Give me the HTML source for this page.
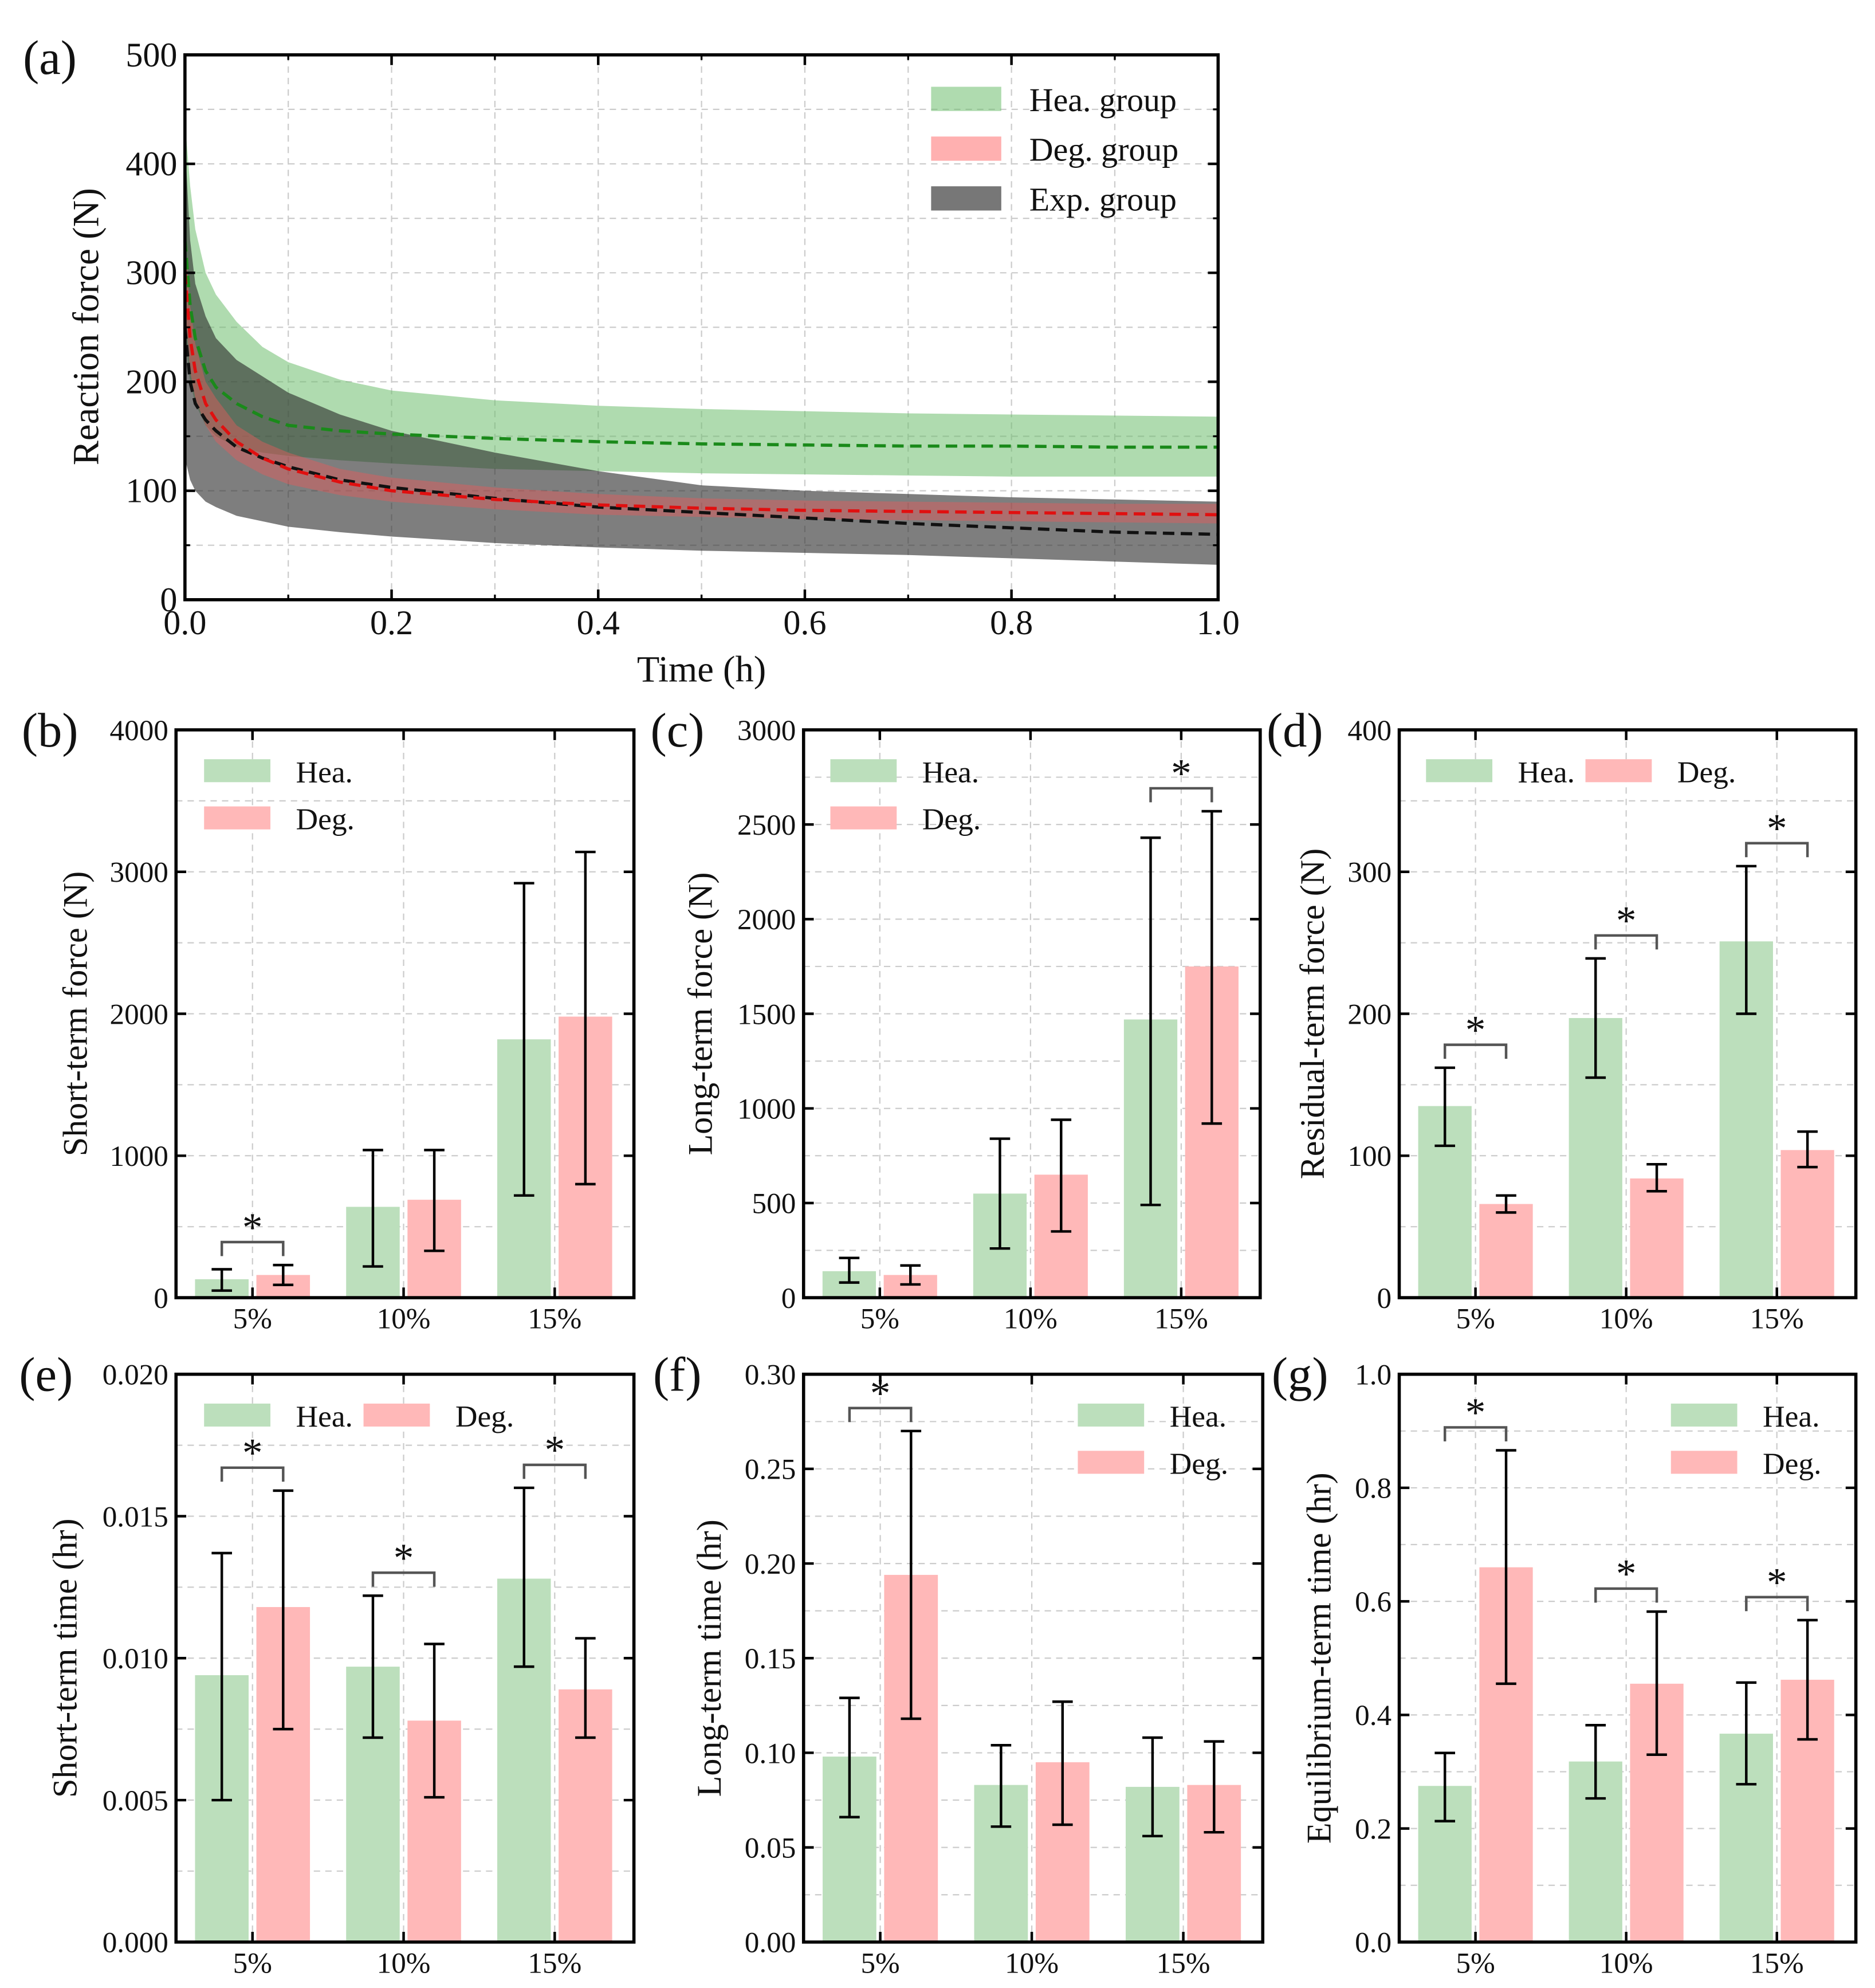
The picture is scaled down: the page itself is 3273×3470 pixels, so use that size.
<!DOCTYPE html>
<html><head><meta charset="utf-8"><style>
html,body{margin:0;padding:0;background:#fff}
svg{display:block}
text{font-family:"Liberation Serif",serif;fill:#111}
</style></head><body>
<svg id="fig" width="3273" height="3470" viewBox="0 0 1470 1558" preserveAspectRatio="none" xmlns="http://www.w3.org/2000/svg"></svg>
<script>
// ---- Panel (a) data ----
const timesA = [0,0.005,0.01,0.02,0.03,0.05,0.075,0.1,0.15,0.2,0.3,0.4,0.5,0.6,0.7,0.8,0.9,1.0];
const heaMean = [330,270,240,210,195,180,168,160,155,152,148,145,143,142,141,141,140,140];
const heaUp = [440,380,340,300,280,255,232,218,202,192,183,178,175,173,171,170,169,168];
const heaLo = [240,200,180,160,150,140,135,132,128,125,120,118,116,115,114,113,113,113];
const degMean = [300,240,210,180,165,145,130,120,108,100,92,87,84,82,81,80,79,78];
const degUp = [330,270,235,200,185,160,145,135,120,112,103,97,93,91,90,89,88,88];
const degLo = [270,210,185,160,145,128,115,106,96,90,83,78,76,74,73,72,71,70];
const expMean = [250,200,180,165,155,140,130,122,110,103,93,85,80,75,70,66,62,60];
const expUp = [420,330,290,260,240,220,205,190,170,155,135,118,105,100,97,94,92,90];
const expLo = [130,110,100,90,85,77,72,67,62,58,52,48,45,43,41,38,35,32];
const xTicksA = [0,0.2,0.4,0.6,0.8,1.0];
const xTickLabelsA = ["0.0","0.2","0.4","0.6","0.8","1.0"];
const yTicksA = [0,100,200,300,400,500];
// ---- Bar panels data ----
const categories = ["5%","10%","15%"];
const bHea = [130,640,1820], bHeaLo=[50,220,720], bHeaHi=[200,1040,2920];
const bDeg = [160,690,1980], bDegLo=[90,330,800], bDegHi=[230,1040,3140];
const bSig = [true,false,false];
const cHea = [140,550,1470], cHeaLo=[80,260,490], cHeaHi=[210,840,2430];
const cDeg = [120,650,1750], cDegLo=[70,350,920], cDegHi=[170,940,2570];
const cSig = [false,false,true];
const dHea = [135,197,251], dHeaLo=[107,155,200], dHeaHi=[162,239,304];
const dDeg = [66,84,104], dDegLo=[60,75,92], dDegHi=[72,94,117];
const dSig = [true,true,true];
const eHea = [0.0094,0.0097,0.0128], eHeaLo=[0.0050,0.0072,0.0097], eHeaHi=[0.0137,0.0122,0.0160];
const eDeg = [0.0118,0.0078,0.0089], eDegLo=[0.0075,0.0051,0.0072], eDegHi=[0.0159,0.0105,0.0107];
const eSig = [true,true,true];
const fHea = [0.098,0.083,0.082], fHeaLo=[0.066,0.061,0.056], fHeaHi=[0.129,0.104,0.108];
const fDeg = [0.194,0.095,0.083], fDegLo=[0.118,0.062,0.058], fDegHi=[0.270,0.127,0.106];
const fSig = [true,false,false];
const gHea = [0.275,0.318,0.367], gHeaLo=[0.213,0.253,0.278], gHeaHi=[0.333,0.382,0.457];
const gDeg = [0.66,0.455,0.462], gDegLo=[0.455,0.33,0.357], gDegHi=[0.866,0.582,0.567];
const gSig = [true,true,true];
const bTicks=[0,1000,2000,3000,4000], cTicks=[0,500,1000,1500,2000,2500,3000], dTicks=[0,100,200,300,400];
const eTicks=[0,0.005,0.010,0.015,0.020], eTickLabels=["0.000","0.005","0.010","0.015","0.020"];
const fTicks=[0,0.05,0.10,0.15,0.20,0.25,0.30], fTickLabels=["0.00","0.05","0.10","0.15","0.20","0.25","0.30"];
const gTicks=[0,0.2,0.4,0.6,0.8,1.0], gTickLabels=["0.0","0.2","0.4","0.6","0.8","1.0"];

const NS="http://www.w3.org/2000/svg";
const svg=document.getElementById('fig');
function mk(tag,attrs,parent){const e=document.createElementNS(NS,tag);for(const k in attrs)e.setAttribute(k,attrs[k]);(parent||svg).appendChild(e);return e;}
function txt(s,x,y,size,anchor,parent,rot){const t=mk('text',{x:x,y:y,'font-size':size,'text-anchor':anchor||'middle'},parent);if(rot)t.setAttribute('transform','rotate(-90 '+x+' '+y+')');t.textContent=s;return t;}

const GREEN='#bcdfbc', PINK='#ffb8b8';

// ---------- Panel (a) ----------
(function(){
 const g=mk('g',{});
 
 
 const X0=145,X1=955,Y0=470,Y1=43;
 const sx=v=>X0+(X1-X0)*v, sy=v=>Y0-(Y0-Y1)*v/500;
 for(let v=0.1;v<1;v+=0.1){mk('line',{x1:sx(v),x2:sx(v),y1:Y1,y2:Y0,stroke:'#ccc','stroke-dasharray':'5,4','stroke-width':1},g);}
 for(let v=50;v<500;v+=50){mk('line',{x1:X0,x2:X1,y1:sy(v),y2:sy(v),stroke:'#ccc','stroke-dasharray':'5,4','stroke-width':1},g);}
 function band(up,lo,fill,name){let d='M';for(let i=0;i<timesA.length;i++)d+=sx(timesA[i])+','+sy(up[i])+' L';for(let i=timesA.length-1;i>=0;i--)d+=sx(timesA[i])+','+sy(lo[i])+(i?' L':'');d+='Z';const p=mk('path',{d:d,fill:fill},g);}
 function line(m,col,name){let d='';for(let i=0;i<timesA.length;i++)d+=(i?'L':'M')+sx(timesA[i])+','+sy(m[i]);const p=mk('path',{d:d,fill:'none',stroke:col,'stroke-width':2.5,'stroke-dasharray':'9,5'},g);}
 band(heaUp,heaLo,'rgba(110,190,110,0.55)','hea-band');
 band(expUp,expLo,'rgba(40,40,40,0.6)','exp-band');
 band(degUp,degLo,'rgba(230,90,90,0.45)','deg-band');
 line(heaMean,'#1a8a1a','hea-mean-line');
 line(expMean,'#111','exp-mean-line');
 line(degMean,'#e01010','deg-mean-line');
 mk('rect',{x:X0,y:Y1,width:X1-X0,height:Y0-Y1,fill:'none',stroke:'#000','stroke-width':2.5},g);
 xTicksA.forEach((v,i)=>{mk('line',{x1:sx(v),x2:sx(v),y1:Y0,y2:Y0-8,stroke:'#000','stroke-width':2},g);mk('line',{x1:sx(v),x2:sx(v),y1:Y1,y2:Y1+8,stroke:'#000','stroke-width':2},g);txt(xTickLabelsA[i],sx(v),Y0+27,27,'middle',g);});
 for(let v=0.1;v<1;v+=0.2){mk('line',{x1:sx(v),x2:sx(v),y1:Y0,y2:Y0-4,stroke:'#000','stroke-width':1.5},g);mk('line',{x1:sx(v),x2:sx(v),y1:Y1,y2:Y1+4,stroke:'#000','stroke-width':1.5},g);}
 yTicksA.forEach(v=>{mk('line',{x1:X0,x2:X0+8,y1:sy(v),y2:sy(v),stroke:'#000','stroke-width':2},g);mk('line',{x1:X1,x2:X1-8,y1:sy(v),y2:sy(v),stroke:'#000','stroke-width':2},g);txt(String(v),X0-6,sy(v)+9,27,'end',g);});
 for(let v=50;v<500;v+=100){mk('line',{x1:X0,x2:X0+4,y1:sy(v),y2:sy(v),stroke:'#000','stroke-width':1.5},g);mk('line',{x1:X1,x2:X1-4,y1:sy(v),y2:sy(v),stroke:'#000','stroke-width':1.5},g);}
 const xt=txt('Time (h)',550,534,29,'middle',g);
 const yt=txt('Reaction force (N)',77,256,29,'middle',g,true);
 const lg=[['Hea. group','rgba(110,190,110,0.55)',68],['Deg. group','rgba(255,150,150,0.75)',107],['Exp. group','#777',146]];
 lg.forEach(l=>{const r=mk('rect',{x:730,y:l[2],width:55,height:19,fill:l[1]},g);txt(l[0],807,l[2]+19,26,'start',g);});
 txt('(a)',18,58,38,'start');
})();

// ---------- Bar panels ----------
function barPanel(o){
 const g=mk('g',{});
 
 
 const X0=o.x0,X1=o.x1,Y0=o.y0,Y1=o.y1;
 const sy=v=>Y0-(Y0-Y1)*v/o.max;
 const w=X1-X0, cx=i=>X0+w*(0.167+0.33*i);
 o.ticks.forEach((v,i)=>{ if(i>0){const half=(o.ticks[i]+o.ticks[i-1])/2;mk('line',{x1:X0,x2:X1,y1:sy(half),y2:sy(half),stroke:'#ccc','stroke-dasharray':'5,4'},g);} if(i>0&&i<o.ticks.length-1)mk('line',{x1:X0,x2:X1,y1:sy(v),y2:sy(v),stroke:'#ccc','stroke-dasharray':'5,4'},g);});
 categories.forEach((c,i)=>mk('line',{x1:cx(i),x2:cx(i),y1:Y1,y2:Y0,stroke:'#ccc','stroke-dasharray':'5,4'},g));
 const bw=w*0.117, off=w*0.067;
 function bars(vals,lo,hi,col,dx,name){vals.forEach((v,i)=>{const x=cx(i)+dx;const r=mk('rect',{x:x-bw/2,y:sy(v),width:bw,height:Y0-sy(v),fill:col},g);
  mk('line',{x1:x,x2:x,y1:sy(lo[i]),y2:sy(hi[i]),stroke:'#000','stroke-width':2},g);
  mk('line',{x1:x-8,x2:x+8,y1:sy(lo[i]),y2:sy(lo[i]),stroke:'#000','stroke-width':2},g);
  mk('line',{x1:x-8,x2:x+8,y1:sy(hi[i]),y2:sy(hi[i]),stroke:'#000','stroke-width':2},g);});}
 bars(o.hea,o.heaLo,o.heaHi,GREEN,-off,'hea');
 bars(o.deg,o.degLo,o.degHi,PINK,off,'deg');
 o.sig.forEach((s,i)=>{if(!s)return;const top=Math.min(sy(o.heaHi[i]),sy(o.degHi[i]));const by=top-18;const a=cx(i)-off,b=cx(i)+off;
  const p=mk('path',{d:`M${a},${by+11}L${a},${by}L${b},${by}L${b},${by+11}`,fill:'none',stroke:'#555','stroke-width':2},g);
  txt('*',cx(i),by-1,32,'middle',g);});
 mk('rect',{x:X0,y:Y1,width:w,height:Y0-Y1,fill:'none',stroke:'#000','stroke-width':2.5},g);
 o.ticks.forEach((v,i)=>{mk('line',{x1:X0,x2:X0+8,y1:sy(v),y2:sy(v),stroke:'#000','stroke-width':2},g);mk('line',{x1:X1,x2:X1-8,y1:sy(v),y2:sy(v),stroke:'#000','stroke-width':2},g);txt(o.labels?o.labels[i]:String(v),X0-6,sy(v)+8,23,'end',g);});
 categories.forEach((c,i)=>{mk('line',{x1:cx(i),x2:cx(i),y1:Y0,y2:Y0-8,stroke:'#000','stroke-width':2},g);mk('line',{x1:cx(i),x2:cx(i),y1:Y1,y2:Y1+8,stroke:'#000','stroke-width':2},g);txt(c,cx(i),Y0+24,23,'middle',g);});
 const yt=txt(o.ytitle,o.ytx,(Y0+Y1)/2,27,'middle',g,true);
 o.legend.forEach(l=>{const r=mk('rect',{x:l[0],y:l[1],width:52,height:18,fill:l[2]},g);txt(l[3],l[0]+72,l[1]+18,24,'start',g);});
 txt(o.letter,o.lx,o.ly,38,'start');
}
barPanel({name:'panel-b',x0:138,x1:497,y0:1017,y1:572,max:4000,ticks:bTicks,hea:bHea,heaLo:bHeaLo,heaHi:bHeaHi,deg:bDeg,degLo:bDegLo,degHi:bDegHi,sig:bSig,ytitle:'Short-term force (N)',ytx:68,legend:[[160,595,GREEN,'Hea.'],[160,632,PINK,'Deg.']],letter:'(b)',lx:17,ly:585});
barPanel({name:'panel-c',x0:630,x1:988,y0:1017,y1:572,max:3000,ticks:cTicks,hea:cHea,heaLo:cHeaLo,heaHi:cHeaHi,deg:cDeg,degLo:cDegLo,degHi:cDegHi,sig:cSig,ytitle:'Long-term force (N)',ytx:558,legend:[[651,595,GREEN,'Hea.'],[651,632,PINK,'Deg.']],letter:'(c)',lx:510,ly:585});
barPanel({name:'panel-d',x0:1097,x1:1455,y0:1017,y1:572,max:400,ticks:dTicks,hea:dHea,heaLo:dHeaLo,heaHi:dHeaHi,deg:dDeg,degLo:dDegLo,degHi:dDegHi,sig:dSig,ytitle:'Residual-term force (N)',ytx:1038,legend:[[1118,595,GREEN,'Hea.'],[1243,595,PINK,'Deg.']],letter:'(d)',lx:993,ly:585});
barPanel({name:'panel-e',x0:138,x1:497,y0:1522,y1:1077,max:0.020,ticks:eTicks,labels:eTickLabels,hea:eHea,heaLo:eHeaLo,heaHi:eHeaHi,deg:eDeg,degLo:eDegLo,degHi:eDegHi,sig:eSig,ytitle:'Short-term time (hr)',ytx:60,legend:[[160,1100,GREEN,'Hea.'],[285,1100,PINK,'Deg.']],letter:'(e)',lx:15,ly:1090});
barPanel({name:'panel-f',x0:630,x1:990,y0:1522,y1:1077,max:0.30,ticks:fTicks,labels:fTickLabels,hea:fHea,heaLo:fHeaLo,heaHi:fHeaHi,deg:fDeg,degLo:fDegLo,degHi:fDegHi,sig:fSig,ytitle:'Long-term time (hr)',ytx:565,legend:[[845,1100,GREEN,'Hea.'],[845,1137,PINK,'Deg.']],letter:'(f)',lx:512,ly:1090});
barPanel({name:'panel-g',x0:1097,x1:1455,y0:1522,y1:1077,max:1.0,ticks:gTicks,labels:gTickLabels,hea:gHea,heaLo:gHeaLo,heaHi:gHeaHi,deg:gDeg,degLo:gDegLo,degHi:gDegHi,sig:gSig,ytitle:'Equilibrium-term time (hr)',ytx:1043,legend:[[1310,1100,GREEN,'Hea.'],[1310,1137,PINK,'Deg.']],letter:'(g)',lx:997,ly:1090});
</script>
</body></html>
